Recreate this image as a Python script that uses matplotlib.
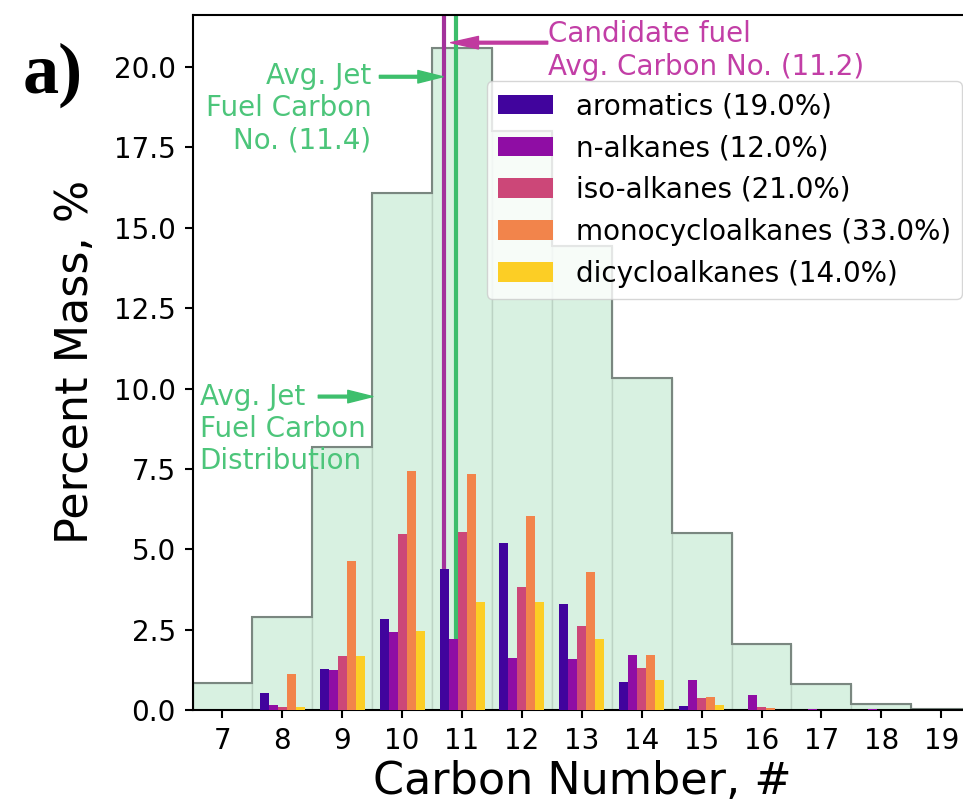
import matplotlib
matplotlib.use("Agg")
import matplotlib.pyplot as plt
import numpy as np

# carbon numbers and the average jet fuel distribution (percent mass)
carbon = [7, 8, 9, 10, 11, 12, 13, 14, 15, 16, 17, 18, 19]
jet_avg = [0.85, 2.88, 8.19, 16.07, 20.6, 18.0, 14.45, 10.34, 5.52, 2.04, 0.81, 0.18, 0.03]

# candidate fuel, by hydrocarbon class
aromatics = [0, 0.52, 1.29, 2.84, 4.40, 5.18, 3.31, 0.87, 0.12, 0, 0, 0, 0]
n_alkanes = [0, 0.16, 1.24, 2.42, 2.21, 1.62, 1.59, 1.70, 0.93, 0.47, 0.03, 0.03, 0]
iso_alkanes = [0, 0.10, 1.68, 5.47, 5.53, 3.84, 2.61, 1.31, 0.37, 0.08, 0, 0, 0]
monocyclo = [0, 1.11, 4.63, 7.42, 7.34, 6.04, 4.30, 1.70, 0.40, 0.06, 0, 0, 0]
dicyclo = [0, 0.08, 1.68, 2.45, 3.37, 3.35, 2.21, 0.93, 0.14, 0, 0, 0, 0]

labels = ["aromatics (19.0%)", "n-alkanes (12.0%)", "iso-alkanes (21.0%)",
          "monocycloalkanes (33.0%)", "dicycloalkanes (14.0%)"]

# averages (lines are drawn half a bin to the left, as in the original)
cand_avg = 11.2
jet_avg_no = 11.4
line_shift = -0.5

fig = plt.figure(figsize=(9.63, 8.08), dpi=100)
ax = fig.add_axes([0.1999, 0.1213, 0.8086, 0.8605])

x = np.array(carbon)
ax.bar(x, jet_avg, width=1.0, color="#d8f1e1", edgecolor="#bcd3c4", linewidth=1, zorder=1)
edges = np.append(x - 0.5, x[-1] + 0.5)
ax.stairs(jet_avg, edges, color="#7a8780", linewidth=1.5, zorder=1.5)

ax.axvline(cand_avg + line_shift, color="#a3329b", linewidth=3, zorder=2)
ax.axvline(jet_avg_no + line_shift, color="#3cbd6b", linewidth=3, zorder=2)

series = [aromatics, n_alkanes, iso_alkanes, monocyclo, dicyclo]
cols = plt.cm.plasma(np.linspace(0.1, 0.9, 5))
w = 0.15
for i, (s, c, lab) in enumerate(zip(series, cols, labels)):
    ax.bar(x + (i - 2) * w, s, width=w, color=c, label=lab, zorder=3)

green = "#4cc57a"
mag = "#c23ea6"
arrow_g = dict(facecolor="#3dbf6c", edgecolor="#3dbf6c", width=2, headwidth=9, headlength=18, shrink=0)
arrow_m = dict(facecolor="#c03a9f", edgecolor="#c03a9f", width=2, headwidth=9, headlength=20, shrink=0)

ax.text(9.49, 18.72, "Avg. Jet\nFuel Carbon\nNo. (11.4)", color=green, fontsize=20,
        ha="right", va="center", multialignment="right")
ax.annotate("", xy=(10.68, 19.7), xytext=(9.62, 19.7), arrowprops=arrow_g)

ax.text(6.62, 8.74, "Avg. Jet\nFuel Carbon\nDistribution", color=green, fontsize=20,
        ha="left", va="center", multialignment="left")
ax.annotate("", xy=(9.51, 9.75), xytext=(8.6, 9.75), arrowprops=arrow_g)

ax.text(12.43, 20.52, "Candidate fuel\nAvg. Carbon No. (11.2)", color=mag, fontsize=20,
        ha="left", va="center", multialignment="left")
ax.annotate("", xy=(10.81, 20.76), xytext=(12.43, 20.76), arrowprops=arrow_m)

ax.set_xlim(6.5, 19.5)
ax.set_ylim(0, 21.63)
ax.set_xticks(carbon)
ax.set_yticks(np.arange(0, 20.1, 2.5))
ax.yaxis.set_major_formatter(matplotlib.ticker.FormatStrFormatter("%.1f"))
ax.tick_params(labelsize=20, length=6, width=1.5, pad=6)
for sp in ax.spines.values():
    sp.set_linewidth(1.5)

ax.set_xlabel("Carbon Number, #", fontsize=32, labelpad=4)
ax.set_ylabel("Percent Mass, %", fontsize=32, labelpad=12)

ax.legend(loc="upper right", bbox_to_anchor=(0.988, 0.9046), borderaxespad=0,
          fontsize=20, labelspacing=0.5, framealpha=0.8)

fig.text(0.023, 0.885, "a)", fontsize=52, fontweight="bold",
         family=["Liberation Serif", "DejaVu Serif"], ha="left", va="baseline")

fig.savefig("out.png", dpi=100)
